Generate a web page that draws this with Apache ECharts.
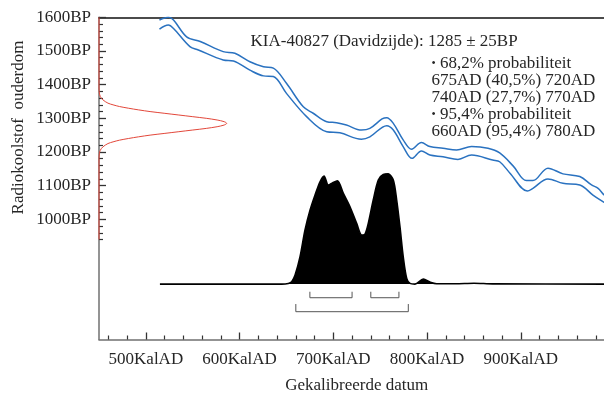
<!DOCTYPE html>
<html><head><meta charset="utf-8">
<script src="https://cdn.jsdelivr.net/npm/echarts@6/dist/echarts.min.js"></script>
<style>html,body{margin:0;padding:0;background:#fff}#c{width:604px;height:396px}</style>
</head><body><div id="c"></div>
<script>
const FONT = '"Liberation Serif","Times New Roman",serif';
// x axis (calendar years AD)
const xMajorTicks = [500, 600, 700, 800, 900, 1000];
const xLabels = [500, 600, 700, 800, 900];
const xMinorTicks = [460, 480, 520, 540, 560, 580, 620, 640, 660, 680, 720, 740, 760, 780, 820, 840, 860, 880, 920, 940, 960, 980];
// y axis (radiocarbon years BP)
const yMajorTicks = [1000, 1100, 1200, 1300, 1400, 1500, 1600];
const yLabels = [1000, 1100, 1200, 1300, 1400, 1500, 1600];
const yMinorTicks = [940, 960, 980, 1020, 1040, 1060, 1080, 1120, 1140, 1160, 1180, 1220, 1240, 1260, 1280, 1320, 1340, 1360, 1380, 1420, 1440, 1460, 1480, 1520, 1540, 1560, 1580];

// calibration curve, +1 sigma and -1 sigma  [year AD, BP]
const calUpper = [[514.5,1592],[524,1600],[529.5,1592],[543.5,1542],[558,1528],[582.5,1498],[595,1493],[611,1468],[625.5,1453],[636,1449],[650,1404],[668,1334],[678.5,1315],[693,1290],[703.5,1287],[714,1280],[730,1265],[739,1270],[752,1298],[757,1302],[764,1285],[774.5,1236],[783.5,1208],[794,1228],[803,1216],[817,1211],[831.5,1206],[847.5,1216],[865,1211],[877.5,1197],[892,1158],[906,1115],[913,1115],[929,1152],[945,1135],[963,1127],[975.5,1102],[982.5,1092],[989,1072],[995,1060]];
const calLower = [[514.5,1565],[524,1577],[529.5,1567],[547,1513],[556,1503],[582.5,1473],[593.5,1470],[611,1443],[625.5,1426],[636,1424],[650,1374],[671.5,1305],[693,1260],[707,1257],[730,1238],[739,1245],[757,1278],[764,1265],[774.5,1216],[784,1181],[794,1203],[803,1191],[817,1186],[833,1178],[847.5,1191],[870,1176],[877.5,1171],[888.5,1137],[907,1084],[913,1092],[929,1120],[945,1107],[963,1102],[977,1072],[989,1050],[995,1040]];

// measured radiocarbon date (relative density)  [BP, density]
const c14BP      = [1600, 1390, 1375, 1365, 1355, 1345, 1340, 1335, 1330, 1325, 1320, 1315, 1310, 1305, 1300, 1295, 1290, 1285, 1280, 1275, 1270, 1265, 1260, 1255, 1250, 1245, 1240, 1235, 1230, 1225, 1215, 1205, 1195, 1180, 940];
const c14Density = [0, 0, 0.003, 0.01, 0.03, 0.07, 0.11, 0.16, 0.23, 0.31, 0.40, 0.51, 0.62, 0.73, 0.84, 0.925, 0.98, 1, 0.98, 0.925, 0.84, 0.73, 0.62, 0.51, 0.40, 0.31, 0.23, 0.16, 0.11, 0.07, 0.03, 0.01, 0.003, 0, 0];

// calibrated probability distribution (% of maximum)
const calYears = [515, 645, 652, 655.6, 659.2, 664.5, 669.8, 675.2, 680.5, 685.8, 690.1, 694.7, 699.4, 704.3, 710.7, 717.8, 724.9, 730.3, 733.8, 737.3, 742.6, 748, 753.3, 758.6, 764, 767.6, 771.1, 774.6, 778.3, 781.8, 787.1, 796, 803.1, 810.2, 830, 850, 870, 1000];
const calProb  = [0, 0, 0.6, 2.1, 8.1, 24.7, 48.8, 66.8, 80.4, 92.4, 97.6, 89.4, 91.5, 93.3, 81.9, 69.8, 54.8, 44.3, 45.2, 54.8, 75.9, 93.9, 99, 99.5, 93.9, 75.9, 51.8, 24.7, 5.1, 0.6, 0, 4.5, 1.8, 0.3, 0.3, 0.8, 0.2, 0];

// probability ranges
const range68 = [[675, 720], [740, 770]];
const range95 = [[660, 780]];

const titleText = 'KIA-40827 (Davidzijde): 1285 ± 25BP';
const infoLines = ['{b|•} 68,2% probabiliteit', '675AD (40,5%) 720AD', '740AD (27,7%) 770AD', '{b|•} 95,4% probabiliteit', '660AD (95,4%) 780AD'];

const chart = echarts.init(document.getElementById('c'), null, {renderer: 'canvas'});
const G = {left: 99, top: 17.3, width: 515.5, height: 322.2, outerBoundsMode: 'none', containLabel: false};
const textColor = '#262626';
const axisGray = '#707070';

function bracket(r, top, bottom) {
  return {type: 'line', xAxisIndex: 3, yAxisIndex: 2, showSymbol: false, silent: true,
    lineStyle: {color: '#555', width: 1}, data: [[r[0], top], [r[0], bottom], [r[1], bottom], [r[1], top]], z: 5};
}

const option = {
  animation: false,
  grid: [
    Object.assign({}, G),
    Object.assign({}, G),
    {left: 99, top: 173.3, width: 515.5, height: 166.2, outerBoundsMode: 'none', containLabel: false},
    {left: 99, top: 17.3, width: 127.7, height: 322.2, outerBoundsMode: 'none', containLabel: false}
  ],
  xAxis: [
    {gridIndex: 0, type: 'value', min: 450, max: 1000, position: 'bottom',
     axisLine: {lineStyle: {color: axisGray, width: 1.5}},
     axisTick: {inside: true, length: 7, customValues: xMajorTicks, lineStyle: {color: '#333', width: 1.3}},
     axisLabel: {customValues: xLabels, formatter: v => v + 'KalAD', fontFamily: FONT, fontSize: 17, color: textColor, margin: 12},
     splitLine: {show: false},
     name: 'Gekalibreerde datum', nameLocation: 'middle', nameGap: 38,
     nameTextStyle: {fontFamily: FONT, fontSize: 17, color: textColor}},
    {gridIndex: 1, type: 'value', min: 450, max: 1000, position: 'bottom',
     axisLine: {show: false},
     axisTick: {inside: true, length: 4, customValues: xMinorTicks, lineStyle: {color: '#333', width: 1.2}},
     axisLabel: {show: false}, splitLine: {show: false}},
    {gridIndex: 0, type: 'value', min: 450, max: 1000, position: 'top',
     axisLine: {lineStyle: {color: '#111', width: 1.5}}, axisTick: {show: false}, axisLabel: {show: false}, splitLine: {show: false}},
    {gridIndex: 2, type: 'value', min: 450, max: 1000, show: false},
    {gridIndex: 3, type: 'value', min: 0, max: 1, show: false}
  ],
  yAxis: [
    {gridIndex: 0, type: 'value', min: 643, max: 1600, position: 'left',
     axisLine: {show: true, lineStyle: {color: axisGray, width: 1.5}},
     axisTick: {show: true, inside: true, length: 7, customValues: yMajorTicks, lineStyle: {color: '#333', width: 1.3}},
     axisLabel: {customValues: yLabels, formatter: v => v + 'BP', fontFamily: FONT, fontSize: 17, color: textColor, margin: 8},
     splitLine: {show: false}},
    {gridIndex: 1, type: 'value', min: 643, max: 1600, position: 'left',
     axisLine: {show: false},
     axisTick: {show: true, inside: true, length: 4, customValues: yMinorTicks, lineStyle: {color: '#333', width: 1.2}},
     axisLabel: {show: false}, splitLine: {show: false}},
    {gridIndex: 2, type: 'value', min: -50, max: 100, show: false},
    {gridIndex: 3, type: 'value', min: 643, max: 1600, show: false}
  ],
  series: [
    {type: 'line', xAxisIndex: 0, yAxisIndex: 0, data: calUpper, showSymbol: false, smooth: 0.35, silent: true,
     lineStyle: {color: '#2a72c0', width: 1.5}, z: 3},
    {type: 'line', xAxisIndex: 0, yAxisIndex: 0, data: calLower, showSymbol: false, smooth: 0.35, silent: true,
     lineStyle: {color: '#2a72c0', width: 1.5}, z: 3},
    {type: 'line', xAxisIndex: 3, yAxisIndex: 2, data: calYears.map((y, i) => [y, calProb[i]]), showSymbol: false, smooth: 0.3, silent: true,
     lineStyle: {color: '#000', width: 1.6}, areaStyle: {color: '#000', opacity: 1}, z: 4},
    {type: 'line', xAxisIndex: 4, yAxisIndex: 3, data: c14BP.map((b, i) => [c14Density[i], b]), showSymbol: false, smooth: 0.3, silent: true,
     lineStyle: {color: '#e2473a', width: 1}, z: 6},
    bracket(range68[0], -6.9, -12.3),
    bracket(range68[1], -6.9, -12.3),
    bracket(range95[0], -18, -24.9)
  ],
  graphic: [
    {type: 'text', x: 19, y: 127.5, rotation: Math.PI / 2,
     style: {text: 'Radiokoolstof  ouderdom', font: '17px ' + FONT, fill: textColor, textAlign: 'center', textVerticalAlign: 'middle'}},
    {type: 'text', x: 250.5, y: 41.5,
     style: {text: titleText, font: '17px ' + FONT, fill: textColor, textAlign: 'left', textVerticalAlign: 'middle'}}
  ].concat(infoLines.map((t, i) => ({
    type: 'text', x: 431.5, y: 63.5 + i * 17.1,
    style: {text: t, font: '17px ' + FONT, fill: textColor, textAlign: 'left', textVerticalAlign: 'middle',
            rich: {b: {fontSize: 12, fontFamily: FONT, fill: textColor, verticalAlign: 'middle'}}}
  })))
};
chart.setOption(option);
</script>
</body></html>
